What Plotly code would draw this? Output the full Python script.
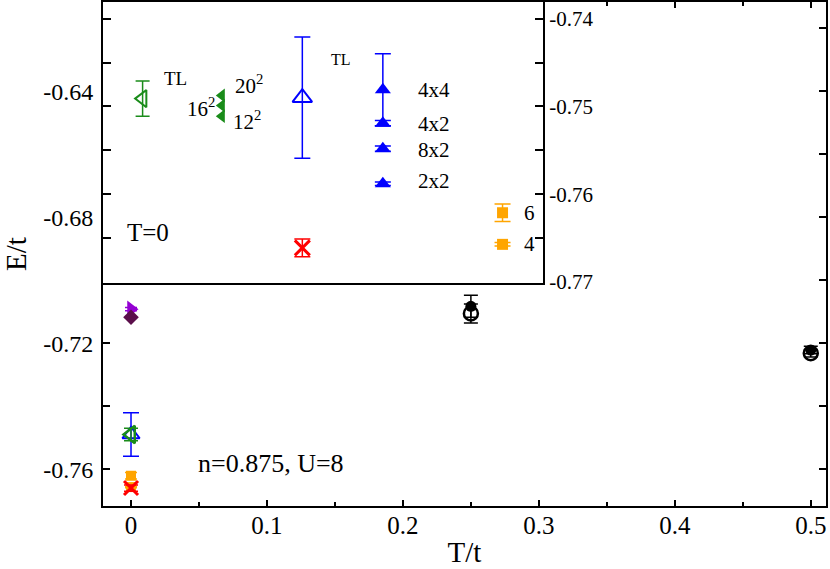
import plotly.graph_objects as go

# ---------------- main panel data (T/t, E/t) ----------------
T_purple = [0.0]; E_purple = [-0.7092]; dE_purple = [0.0005]
T_maroon = [0.0]; E_maroon = [-0.7118]
T_blue_tl = [0.0]; E_blue_tl = [-0.749]; dE_blue_tl = [0.0069]
T_green_tl = [0.0]; E_green_tl = [-0.749]; dE_green_tl = [0.002]
T_orange = [0.0, 0.0]; E_orange = [-0.7621, -0.7657]; dE_orange = [0.001, 0.0002]
T_red = [0.0]; E_red = [-0.766]; dE_red = [0.001]
T_black_f = [0.25, 0.5]; E_black_f = [-0.7083, -0.7222]; dE_black_f = [0.0035, 0.0012]
T_black_o = [0.25, 0.5]; E_black_o = [-0.7106, -0.7232]; dE_black_o = [0.003, 0.0012]

# tick labels
x_tickvals = [0, 0.1, 0.2, 0.3, 0.4, 0.5]
x_ticktext = ["0", "0.1", "0.2", "0.3", "0.4", "0.5"]
y_tickvals = [-0.76, -0.72, -0.68, -0.64]
y_ticktext = ["-0.76", "-0.72", "-0.68", "-0.64"]
y2_tickvals = [-0.77, -0.76, -0.75, -0.74]
y2_ticktext = ["-0.77", "-0.76", "-0.75", "-0.74"]

# ---------------- inset data (T=0) ----------------
ins_green_tl_x = [0.09]; ins_green_tl_y = [-0.7491]; ins_green_tl_e = [0.002]
ins_green_x = [0.27, 0.27, 0.27]; ins_green_y = [-0.74875, -0.7499, -0.7511]
ins_green_labels = ["20<sup>2</sup>", "16<sup>2</sup>", "12<sup>2</sup>"]
ins_blue_tl_x = [0.453]; ins_blue_tl_y = [-0.749]; ins_blue_tl_e = [0.0069]
ins_blue_x = [0.636, 0.636, 0.636, 0.636]
ins_blue_y = [-0.7481, -0.7519, -0.7548, -0.7588]
ins_blue_e = [0.0041, 0.0003, 0.0003, 0.0002]
ins_blue_labels = ["4x4", "4x2", "8x2", "2x2"]
ins_red_x = [0.453]; ins_red_y = [-0.7661]; ins_red_e = [0.001]
ins_orange_x = [0.908, 0.908]; ins_orange_y = [-0.7621, -0.7657]; ins_orange_e = [0.001, 0.0002]
ins_orange_labels = ["6", "4"]

FONT = "Liberation Serif"
GREEN = "#1a8c1a"
BLUE = "#0000ff"
RED = "#ff0000"
ORANGE = "#ffa500"
PURPLE = "#9400d3"
MAROON = "#5b0f4b"


def eb(vals, color, width=6):
    return dict(type="data", array=vals, visible=True, color=color, thickness=1.5, width=width)


fig = go.Figure()

# main traces
fig.add_trace(go.Scatter(x=T_purple, y=E_purple, mode="markers", error_y=eb(dE_purple, PURPLE, 6),
                         marker=dict(symbol="triangle-right", size=15, color=PURPLE)))
fig.add_trace(go.Scatter(x=T_maroon, y=E_maroon, mode="markers",
                         marker=dict(symbol="diamond", size=12, color=MAROON)))
fig.add_trace(go.Scatter(x=T_blue_tl, y=E_blue_tl, mode="markers", error_y=eb(dE_blue_tl, BLUE, 8),
                         marker=dict(symbol="triangle-up-open", size=15, color=BLUE, line=dict(width=2))))
fig.add_trace(go.Scatter(x=T_green_tl, y=E_green_tl, mode="markers", error_y=eb(dE_green_tl, GREEN, 7),
                         marker=dict(symbol="triangle-left-open", size=15, color=GREEN, line=dict(width=2.5))))
fig.add_trace(go.Scatter(x=T_orange, y=E_orange, mode="markers", error_y=eb(dE_orange, ORANGE, 6),
                         marker=dict(symbol="square", size=10, color=ORANGE)))
fig.add_trace(go.Scatter(x=T_red, y=E_red, mode="markers", error_y=eb(dE_red, RED, 7),
                         marker=dict(symbol="x-thin-open", size=14, color=RED, line=dict(width=3, color=RED))))
fig.add_trace(go.Scatter(x=T_black_f, y=E_black_f, mode="markers", error_y=eb(dE_black_f, "black", 7),
                         marker=dict(symbol="circle", size=11, color="black")))
fig.add_trace(go.Scatter(x=T_black_o, y=E_black_o, mode="markers", error_y=eb(dE_black_o, "black", 7),
                         marker=dict(symbol="circle-open", size=14, color="black", line=dict(width=2.5))))

# inset traces
fig.add_trace(go.Scatter(x=ins_green_tl_x, y=ins_green_tl_y, xaxis="x2", yaxis="y2", mode="markers",
                         error_y=eb(ins_green_tl_e, GREEN, 7),
                         marker=dict(symbol="triangle-left-open", size=15, color=GREEN, line=dict(width=2))))
fig.add_trace(go.Scatter(x=ins_green_x, y=ins_green_y, xaxis="x2", yaxis="y2", mode="markers",
                         marker=dict(symbol="triangle-left", size=12, color=GREEN)))
fig.add_trace(go.Scatter(x=ins_blue_tl_x, y=ins_blue_tl_y, xaxis="x2", yaxis="y2", mode="markers",
                         error_y=eb(ins_blue_tl_e, BLUE, 8),
                         marker=dict(symbol="triangle-up-open", size=17, color=BLUE, line=dict(width=2))))
fig.add_trace(go.Scatter(x=ins_blue_x, y=ins_blue_y, xaxis="x2", yaxis="y2", mode="markers",
                         error_y=eb(ins_blue_e, BLUE, 8),
                         marker=dict(symbol="triangle-up", size=14, color=BLUE)))
fig.add_trace(go.Scatter(x=ins_red_x, y=ins_red_y, xaxis="x2", yaxis="y2", mode="markers",
                         error_y=eb(ins_red_e, RED, 8),
                         marker=dict(symbol="x-thin-open", size=15, color=RED, line=dict(width=3, color=RED))))
fig.add_trace(go.Scatter(x=ins_orange_x, y=ins_orange_y, xaxis="x2", yaxis="y2", mode="markers",
                         error_y=eb(ins_orange_e, ORANGE, 8),
                         marker=dict(symbol="square", size=11, color=ORANGE)))

# inset labels
ann = []
def lab(x, y, t, size, xanchor="left"):
    ann.append(dict(x=x, y=y, xref="x2", yref="y2", text=t, showarrow=False,
                    font=dict(family=FONT, size=size, color="black"), xanchor=xanchor, yanchor="middle"))

lab(0.164, -0.7468, "TL", 19, "center")
lab(0.54, -0.7446, "TL", 16, "center")
lab(0.296, ins_green_y[0] + 0.0012, ins_green_labels[0], 21)
lab(0.258, ins_green_y[1] - 0.0002, ins_green_labels[1], 21, "right")
lab(0.292, ins_green_y[2] - 0.0005, ins_green_labels[2], 21)
for yy, t in zip([-0.7481, -0.7520, -0.7549, -0.7585], ins_blue_labels):
    lab(0.712, yy, t, 21)
for yy, t in zip(ins_orange_y, ins_orange_labels):
    lab(0.952, yy, t, 21)
lab(0.05, -0.7643, "T=0", 25)

ann.append(dict(x=0.048, y=-0.7581, xref="x", yref="y", text="n=0.875, U=8", showarrow=False,
                xanchor="left", yanchor="middle", font=dict(family=FONT, size=26, color="black")))

axis_common = dict(showline=True, linecolor="black", linewidth=2, showgrid=False, zeroline=False,
                   tickcolor="black", tickwidth=1.5, mirror="ticks", ticks="inside", automargin=False)

fig.update_layout(
    width=830, height=569,
    margin=dict(l=103, r=4, t=2, b=63),
    plot_bgcolor="white", paper_bgcolor="white",
    showlegend=False,
    font=dict(family=FONT, size=24, color="black"),
    annotations=ann,
    xaxis=dict(**axis_common, range=[-0.0206, 0.5112], tickmode="array",
               tickvals=x_tickvals, ticktext=x_ticktext, ticklen=6,
               minor=dict(dtick=0.05, tick0=0, ticklen=4, ticks="inside", tickcolor="black", tickwidth=1.5),
               tickfont=dict(family=FONT, size=25), ticklabelstandoff=-4,
               title=dict(text="T/t", font=dict(family=FONT, size=29), standoff=4)),
    yaxis=dict(**axis_common, range=[-0.7717, -0.6117], tickmode="array",
               tickvals=y_tickvals, ticktext=y_ticktext, ticklen=7,
               minor=dict(dtick=0.02, tick0=-0.76, ticklen=7, ticks="inside", tickcolor="black", tickwidth=1.5),
               ticklabelstandoff=3,
               tickfont=dict(family=FONT, size=24),
               title=dict(text="E/t", font=dict(family=FONT, size=29), standoff=17)),
    xaxis2=dict(showline=True, linecolor="black", linewidth=2, mirror=True, showgrid=False, zeroline=False,
                ticks="", showticklabels=False, range=[0, 1], domain=[0, 0.6086], anchor="y2", automargin=False),
    yaxis2=dict(**axis_common, range=[-0.7701, -0.7381], domain=[0.4425, 1], anchor="x2", side="right",
                tickmode="array", tickvals=y2_tickvals, ticktext=y2_ticktext, ticklen=8,
                minor=dict(dtick=0.005, tick0=-0.77, ticklen=8, ticks="inside", tickcolor="black", tickwidth=1.5),
                ticklabelstandoff=0,
                tickfont=dict(family=FONT, size=21)),
)

fig.write_html("out.html", config={"displayModeBar": False},
               post_script="document.body.style.margin='0';document.body.style.overflow='hidden';")
